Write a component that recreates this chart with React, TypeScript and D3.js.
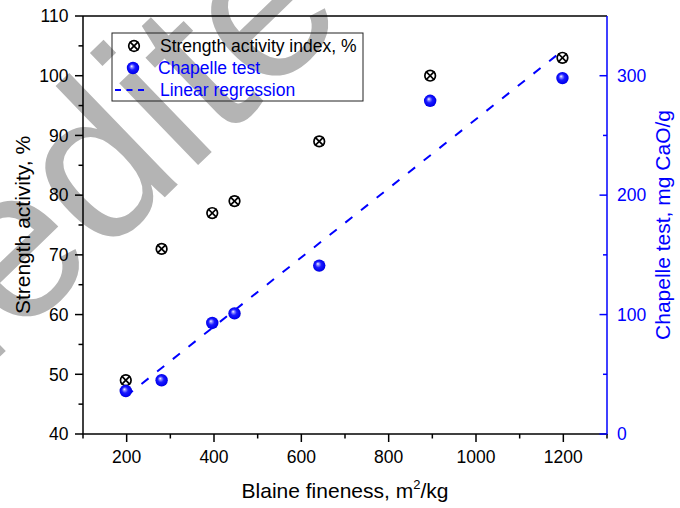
import React from "react";
import * as d3 from "d3";

const blaine = [198, 280, 396, 447, 641, 895, 1198];
const strength = [49, 71, 77, 79, 89, 100, 103];
const chapelle = [36, 45, 93, 101, 141, 279, 298];

const xMajor = [200, 400, 600, 800, 1000, 1200];
const xMinor = [100, 300, 500, 700, 900, 1100, 1300];
const yLMajor = [40, 50, 60, 70, 80, 90, 100, 110];
const yLMinor = [45, 55, 65, 75, 85, 95, 105];
const yRMajor = [0, 100, 200, 300];
const yRMinor = [50, 150, 250];

const legendLabels = ["Strength activity index, %", "Chapelle test", "Linear regression"];

const W = 680;
const H = 508;
const L = 83, R = 607, T = 16, B = 434;
const FONT = "'Liberation Sans', Arial, sans-serif";
const BLUE = "#0000ff";

export default function App() {
  const x = d3.scaleLinear().domain([100, 1300]).range([L, R]);
  const yL = d3.scaleLinear().domain([40, 110]).range([B, T]);
  const yR = d3.scaleLinear().domain([0, 350]).range([B, T]);

  // linear regression of Chapelle vs Blaine
  const mx = d3.mean(blaine) as number;
  const my = d3.mean(chapelle) as number;
  let sxy = 0, sxx = 0;
  blaine.forEach((b, i) => {
    sxy += (b - mx) * (chapelle[i] - my);
    sxx += (b - mx) * (b - mx);
  });
  const slope = sxy / sxx;
  const intercept = my - slope * mx;
  const xr = d3.extent(blaine) as [number, number];
  const regLine = d3.line<number>().x((v) => x(v)).y((v) => yR(intercept + slope * v));

  return (
    <svg width={W} height={H} style={{ display: "block", position: "absolute", left: 0, top: 0 }} fontFamily={FONT}>
      <defs>
        <radialGradient id="ball" cx="50%" cy="50%" r="55%" fx="38%" fy="35%">
          <stop offset="0%" stopColor="#ffffff" />
          <stop offset="18%" stopColor="#8f8fff" />
          <stop offset="45%" stopColor="#1a1aff" />
          <stop offset="85%" stopColor="#0000ee" />
          <stop offset="100%" stopColor="#0000b0" />
        </radialGradient>
      </defs>
      <rect x={0} y={0} width={W} height={H} fill="#fff" />
      {/* watermark */}
      <text
        transform="translate(-182,532) rotate(-44)"
        fontSize={215}
        fill="#b4b4b4"
        fontFamily={FONT}
      >
        Unedited
      </text>

      {/* axes frame */}
      <line x1={L} x2={R} y1={T} y2={T} stroke="#000" strokeWidth={1.5} />
      <line x1={L} x2={R} y1={B} y2={B} stroke="#000" strokeWidth={1.5} />
      <line x1={L} x2={L} y1={T} y2={B} stroke="#000" strokeWidth={1.5} />
      <line x1={R} x2={R} y1={T} y2={B + 0.75} stroke={BLUE} strokeWidth={1.5} />

      {/* bottom ticks */}
      {xMajor.map((v) => (
        <g key={"xm" + v}>
          <line x1={x(v)} x2={x(v)} y1={B} y2={B + 8} stroke="#000" strokeWidth={1.5} />
          <text x={x(v)} y={463} textAnchor="middle" fontSize={17.5} fill="#000">{v}</text>
        </g>
      ))}
      {xMinor.map((v) => (
        <line key={"xn" + v} x1={x(v)} x2={x(v)} y1={B} y2={B + 4.5} stroke="#000" strokeWidth={1.5} />
      ))}

      {/* left ticks */}
      {yLMajor.map((v) => (
        <g key={"ylm" + v}>
          <line x1={L - 8} x2={L} y1={yL(v)} y2={yL(v)} stroke="#000" strokeWidth={1.5} />
          <text x={68.5} y={yL(v) + 6.3} textAnchor="end" fontSize={17.5} fill="#000">{v}</text>
        </g>
      ))}
      {yLMinor.map((v) => (
        <line key={"yln" + v} x1={L - 4.5} x2={L} y1={yL(v)} y2={yL(v)} stroke="#000" strokeWidth={1.5} />
      ))}

      {/* right ticks */}
      {yRMajor.map((v) => (
        <g key={"yrm" + v}>
          <line x1={R - 7.5} x2={R} y1={yR(v)} y2={yR(v)} stroke={BLUE} strokeWidth={1.5} />
          <text x={617} y={yR(v) + 6.3} textAnchor="start" fontSize={17.5} fill={BLUE}>{v}</text>
        </g>
      ))}
      {yRMinor.map((v) => (
        <line key={"yrn" + v} x1={R - 4} x2={R} y1={yR(v)} y2={yR(v)} stroke={BLUE} strokeWidth={1.5} />
      ))}

      {/* axis titles */}
      <text x={345} y={498} textAnchor="middle" fontSize={21} fill="#000">
        Blaine fineness, m<tspan fontSize={13} dy={-9}>2</tspan><tspan dy={9}>/kg</tspan>
      </text>
      <text transform="translate(30,225) rotate(-90)" textAnchor="middle" fontSize={21} fill="#000">
        Strength activity, %
      </text>
      <text transform="translate(670,225) rotate(-90)" textAnchor="middle" fontSize={21} fill={BLUE}>
        Chapelle test, mg CaO/g
      </text>

      {/* regression line */}
      <path d={regLine([xr[0], xr[1]]) || ""} fill="none" stroke={BLUE} strokeWidth={2} strokeDasharray="9,11" />

      {/* strength markers */}
      {blaine.map((b, i) => (
        <g key={"s" + i} transform={`translate(${x(b)},${yL(strength[i])})`}>
          <circle r={5.3} fill="none" stroke="#000" strokeWidth={1.7} />
          <line x1={-4.3} y1={-4.3} x2={4.3} y2={4.3} stroke="#000" strokeWidth={1.7} />
          <line x1={-4.3} y1={4.3} x2={4.3} y2={-4.3} stroke="#000" strokeWidth={1.7} />
        </g>
      ))}

      {/* chapelle markers */}
      {blaine.map((b, i) => (
        <circle key={"c" + i} cx={x(b)} cy={yR(chapelle[i])} r={6.2} fill="url(#ball)" />
      ))}

      {/* legend */}
      <rect x={112} y={33} width={251} height={68} fill="none" stroke="#222" strokeWidth={1} />
      <g transform="translate(134,46)">
        <circle r={5.3} fill="none" stroke="#000" strokeWidth={1.7} />
        <line x1={-4.3} y1={-4.3} x2={4.3} y2={4.3} stroke="#000" strokeWidth={1.7} />
        <line x1={-4.3} y1={4.3} x2={4.3} y2={-4.3} stroke="#000" strokeWidth={1.7} />
      </g>
      <circle cx={133} cy={68} r={6.2} fill="url(#ball)" />
      <line x1={115} x2={144} y1={90} y2={90} stroke={BLUE} strokeWidth={2} strokeDasharray="6,5.5" />
      <text x={160} y={52} fontSize={17.5} fill="#000">{legendLabels[0]}</text>
      <text x={158} y={74} fontSize={17.5} fill={BLUE}>{legendLabels[1]}</text>
      <text x={160} y={95.5} fontSize={17.5} fill={BLUE}>{legendLabels[2]}</text>
    </svg>
  );
}
